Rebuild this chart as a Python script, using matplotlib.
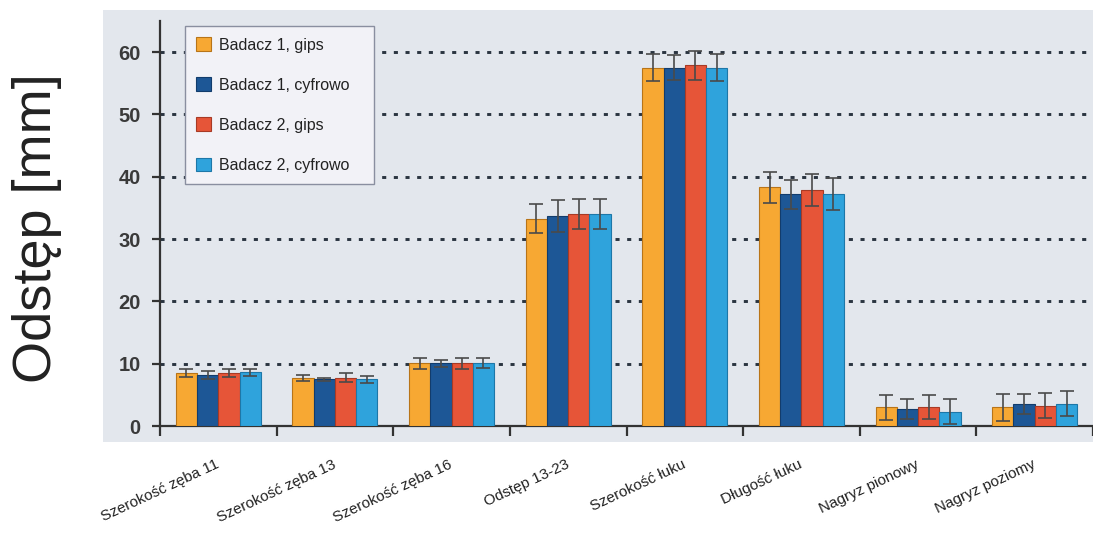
import numpy as np
import matplotlib
matplotlib.use("Agg")
import matplotlib.pyplot as plt
from matplotlib.patches import Rectangle

plt.rcParams['font.family'] = ['Liberation Sans', 'DejaVu Sans']

# ========================
# DATA
# ========================

categories = [
    "Szerokość zęba 11",
    "Szerokość zęba 13",
    "Szerokość zęba 16",
    "Odstęp 13-23",
    "Szerokość łuku",
    "Długość łuku",
    "Nagryz pionowy",
    "Nagryz poziomy",
]

series_names = [
    "Badacz 1, gips",
    "Badacz 1, cyfrowo",
    "Badacz 2, gips",
    "Badacz 2, cyfrowo",
]

b1_gips = [8.5, 7.75, 10.05, 33.3, 57.5, 38.3, 3.0, 3.0]
b1_cyfr = [8.2, 7.5, 10.05, 33.7, 57.5, 37.2, 2.7, 3.6]
b2_gips = [8.5, 7.75, 10.05, 34.0, 57.9, 37.9, 3.1, 3.25]
b2_cyfr = [8.6, 7.5, 10.1, 34.0, 57.5, 37.2, 2.3, 3.6]

b1_gips_sd = [0.7, 0.5, 0.85, 2.4, 2.2, 2.5, 2.0, 2.2]
b1_cyfr_sd = [0.6, 0.2, 0.6, 2.6, 2.0, 2.3, 1.6, 1.6]
b2_gips_sd = [0.7, 0.7, 0.85, 2.4, 2.3, 2.6, 1.9, 2.0]
b2_cyfr_sd = [0.6, 0.55, 0.85, 2.4, 2.2, 2.6, 2.0, 2.0]

y_ticks = [0, 10, 20, 30, 40, 50, 60]

colors = ["#f7a833", "#1d5796", "#e65538", "#2fa3dc"]
edges = ["#b87418", "#123c6c", "#a83a25", "#1d77a8"]

# ========================
# FIGURE
# ========================

fig = plt.figure(figsize=(10.93, 5.33), dpi=100)
fig.patch.set_facecolor("white")

# grey panel behind the plot
panel = Rectangle((103 / 1093, 91 / 533), 990 / 1093, 432 / 533,
                  transform=fig.transFigure, facecolor="#e3e7ed",
                  edgecolor="none", zorder=-10)
fig.patches.append(panel)

ax = fig.add_axes([160 / 1093, 107 / 533, 933 / 1093, 405 / 533])
ax.set_facecolor("none")
ax.set_zorder(1)

values = [b1_gips, b1_cyfr, b2_gips, b2_cyfr]
errors = [b1_gips_sd, b1_cyfr_sd, b2_gips_sd, b2_cyfr_sd]

x = np.arange(len(categories)) + 0.5
width = 0.182
offsets = (np.arange(4) - 1.5) * width

for i in range(4):
    ax.bar(x + offsets[i], values[i], width,
           color=colors[i], edgecolor=edges[i], linewidth=0.8,
           label=series_names[i], zorder=3)
    ax.errorbar(x + offsets[i], values[i], yerr=errors[i], fmt="none",
                ecolor="#4a4a4a", elinewidth=1.2, capsize=5, capthick=1.2,
                zorder=4)

# dotted grid lines
for yv in y_ticks[1:]:
    ax.axhline(yv, color="#2a3440", linewidth=2.1,
               linestyle=(0, (1.4, 2.6)), zorder=1)

ax.set_xlim(0, len(categories))
ax.set_ylim(0, 65)

ax.spines["top"].set_visible(False)
ax.spines["right"].set_visible(False)
ax.spines["left"].set_color("#333333")
ax.spines["bottom"].set_color("#333333")
ax.spines["left"].set_linewidth(1.6)
ax.spines["bottom"].set_linewidth(1.6)

ax.set_yticks(y_ticks)
ax.set_yticklabels([str(v) for v in y_ticks], fontsize=14.5,
                   fontweight="bold", color="#3a3a3a")
ax.tick_params(axis="y", direction="out", length=6, width=1.6,
               color="#333333", pad=8)

ax.set_xticks(np.arange(len(categories) + 1))
ax.set_xticklabels([])
ax.tick_params(axis="x", which="major", direction="out", length=7,
               width=1.6, color="#333333")

ax.set_xticks(x, minor=True)
ax.set_xticklabels(categories, minor=True, rotation=25, ha="right",
                   va="center", rotation_mode="anchor", fontsize=11,
                   color="#222222")
ax.tick_params(axis="x", which="minor", length=0, pad=27)

# legend box stretched to a fixed width
leg = ax.legend(loc="upper left", mode="expand",
                bbox_to_anchor=(25 / 933, 0, 189 / 933, 1 - 5 / 405),
                fontsize=11.5, frameon=True, fancybox=False,
                framealpha=1, facecolor="#f2f2f7", edgecolor="#8a8fa0",
                handlelength=0.95, handleheight=0.95, handletextpad=0.5,
                labelspacing=1.55, borderpad=0.7, borderaxespad=0)
leg.get_frame().set_linewidth(1.0)
for t in leg.get_texts():
    t.set_color("#222222")

fig.text(37 / 1093, 1 - 228 / 533, "Odstęp [mm]", rotation=90,
         fontsize=39, color="#222222", ha="center", va="center")

fig.savefig("out.png", dpi=100)
